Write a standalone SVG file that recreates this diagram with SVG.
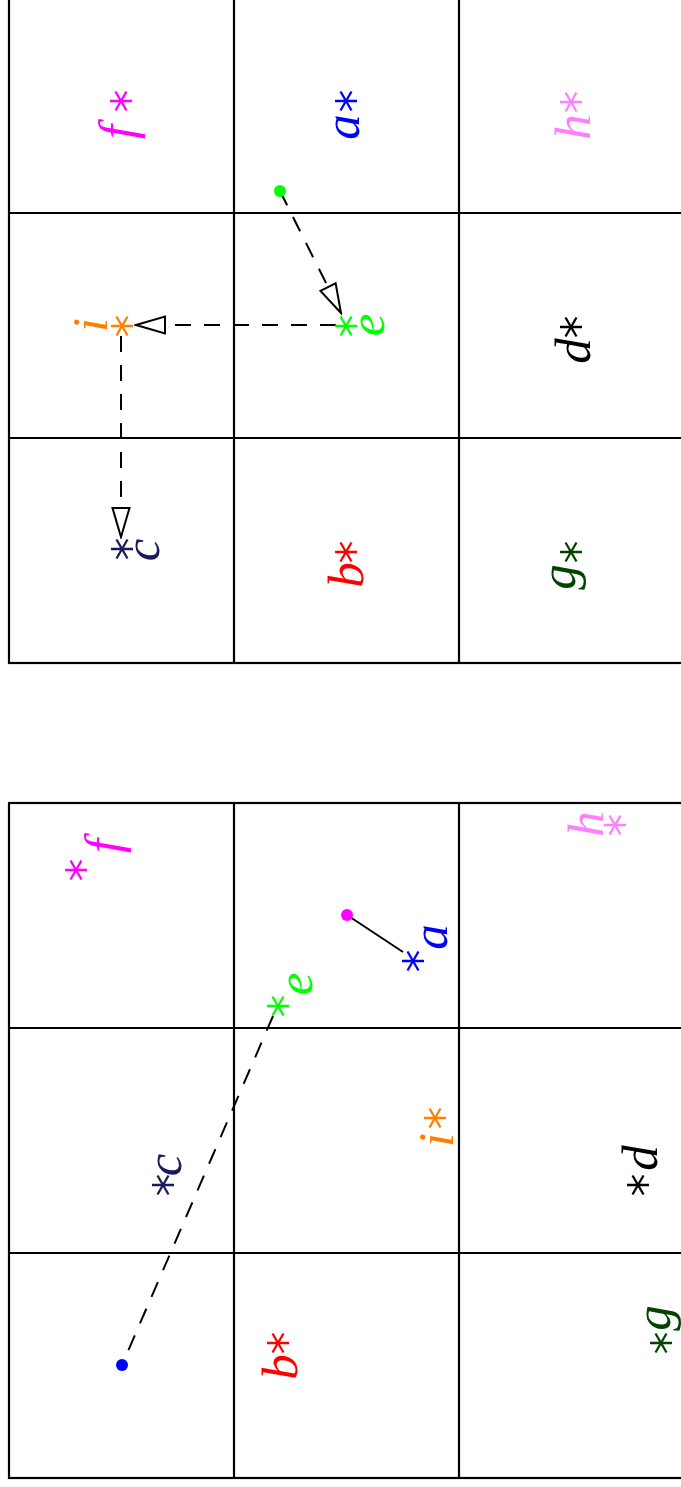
<svg xmlns="http://www.w3.org/2000/svg" xmlns:xlink="http://www.w3.org/1999/xlink" width="681" height="1487" viewBox="0 0 681 1487">
<style>
.grid{fill:none;stroke:#000;stroke-width:2.2}
.lbl{font-family:"Liberation Serif","DejaVu Serif",serif;font-style:italic;font-size:51px;text-anchor:middle}
.dash{fill:none;stroke:#000;stroke-width:2;stroke-dasharray:16 13}
.solid{fill:none;stroke:#000;stroke-width:2}
</style>
<defs>
<path id="star" d="M-11,0H11M-5.5,-9.5L5.5,9.5M-5.5,9.5L5.5,-9.5" fill="none" stroke-width="2.3"/>
<marker id="arr" viewBox="-31 -10 33 20" refX="0" refY="0" markerWidth="33" markerHeight="20" markerUnits="userSpaceOnUse" orient="auto">
<path d="M0,0L-29,-8.5L-29,8.5Z" fill="#fff" stroke="#000" stroke-width="2" stroke-linejoin="miter"/>
</marker>
</defs>
<rect width="681" height="1487" fill="#fff"/>

<g id="grid-top" class="grid">
<rect x="9" y="-12" width="675" height="675"/>
<line x1="234" y1="-12" x2="234" y2="663"/>
<line x1="459" y1="-12" x2="459" y2="663"/>
<line x1="9" y1="213" x2="684" y2="213"/>
<line x1="9" y1="438" x2="684" y2="438"/>
</g>
<g id="grid-bottom" class="grid">
<rect x="9" y="803" width="675" height="675"/>
<line x1="234" y1="803" x2="234" y2="1478"/>
<line x1="459" y1="803" x2="459" y2="1478"/>
<line x1="9" y1="1028" x2="684" y2="1028"/>
<line x1="9" y1="1253" x2="684" y2="1253"/>
</g>

<g id="connectors">
<line class="dash" x1="280" y1="191" x2="341" y2="313" marker-end="url(#arr)"/>
<line class="dash" x1="336" y1="325" x2="136" y2="325" marker-end="url(#arr)"/>
<line class="dash" x1="121" y1="336" x2="121" y2="537" marker-end="url(#arr)"/>
<line class="solid" x1="347" y1="915" x2="403" y2="952"/>
<line class="dash" x1="273" y1="1016" x2="122" y2="1365"/>
<circle cx="280" cy="191" r="6" fill="#00ff00"/>
<circle cx="347" cy="915" r="6" fill="#ff00ff"/>
<circle cx="122" cy="1365" r="6" fill="#0000ff"/>
</g>

<!-- top panel nodes -->
<g id="top-f"><use xlink:href="#star" x="121" y="101" stroke="#ff00ff"/><text class="lbl" fill="#ff00ff" transform="translate(134,132) rotate(-90)">f</text></g>
<g id="top-a"><use xlink:href="#star" x="346" y="101" stroke="#0000ff"/><text class="lbl" fill="#0000ff" transform="translate(359,127) rotate(-90)">a</text></g>
<g id="top-h"><use xlink:href="#star" x="571" y="102" stroke="#ff80ff"/><text class="lbl" fill="#ff80ff" transform="translate(590,127) rotate(-90)">h</text></g>
<g id="top-e"><use xlink:href="#star" x="346" y="326" stroke="#00ff00"/><text class="lbl" fill="#00ff00" transform="translate(384,325) rotate(-90)">e</text></g>
<g id="top-i"><use xlink:href="#star" x="122" y="326" stroke="#ff8000"/><text class="lbl" fill="#ff8000" transform="translate(107,325) rotate(-90)">i</text></g>
<g id="top-d"><use xlink:href="#star" x="571" y="327" stroke="#000"/><text class="lbl" fill="#000" transform="translate(590,351) rotate(-90)">d</text></g>
<g id="top-c"><use xlink:href="#star" x="122" y="549" stroke="#1a1a5c"/><text class="lbl" fill="#1a1a5c" transform="translate(159,550) rotate(-90)">c</text></g>
<g id="top-b"><use xlink:href="#star" x="346" y="552" stroke="#ff0000"/><text class="lbl" fill="#ff0000" transform="translate(363,575) rotate(-90)">b</text></g>
<g id="top-g"><use xlink:href="#star" x="571" y="552" stroke="#004400"/><text class="lbl" fill="#004400" transform="translate(575,577) rotate(-90)">g</text></g>

<!-- bottom panel nodes -->
<g id="bot-f"><use xlink:href="#star" x="76" y="870" stroke="#ff00ff"/><text class="lbl" fill="#ff00ff" transform="translate(120,846) rotate(-90)">f</text></g>
<g id="bot-h"><use xlink:href="#star" x="615" y="825" stroke="#ff80ff"/><text class="lbl" fill="#ff80ff" transform="translate(603,824) rotate(-90)">h</text></g>
<g id="bot-a"><use xlink:href="#star" x="413" y="961" stroke="#0000ff"/><text class="lbl" fill="#0000ff" transform="translate(447,937) rotate(-90)">a</text></g>
<g id="bot-e"><use xlink:href="#star" x="278" y="1006" stroke="#00ff00"/><text class="lbl" fill="#00ff00" transform="translate(312,984) rotate(-90)">e</text></g>
<g id="bot-i"><use xlink:href="#star" x="435" y="1118" stroke="#ff8000"/><text class="lbl" fill="#ff8000" transform="translate(453,1140) rotate(-90)">i</text></g>
<g id="bot-c"><use xlink:href="#star" x="163" y="1185" stroke="#1a1a5c"/><text class="lbl" fill="#1a1a5c" transform="translate(181,1165) rotate(-90)">c</text></g>
<g id="bot-d"><use xlink:href="#star" x="638" y="1185" stroke="#000"/><text class="lbl" fill="#000" transform="translate(657,1158) rotate(-90)">d</text></g>
<g id="bot-b"><use xlink:href="#star" x="278" y="1343" stroke="#ff0000"/><text class="lbl" fill="#ff0000" transform="translate(297,1367) rotate(-90)">b</text></g>
<g id="bot-g"><use xlink:href="#star" x="661" y="1343" stroke="#004400"/><text class="lbl" fill="#004400" transform="translate(670,1318) rotate(-90)">g</text></g>
</svg>
